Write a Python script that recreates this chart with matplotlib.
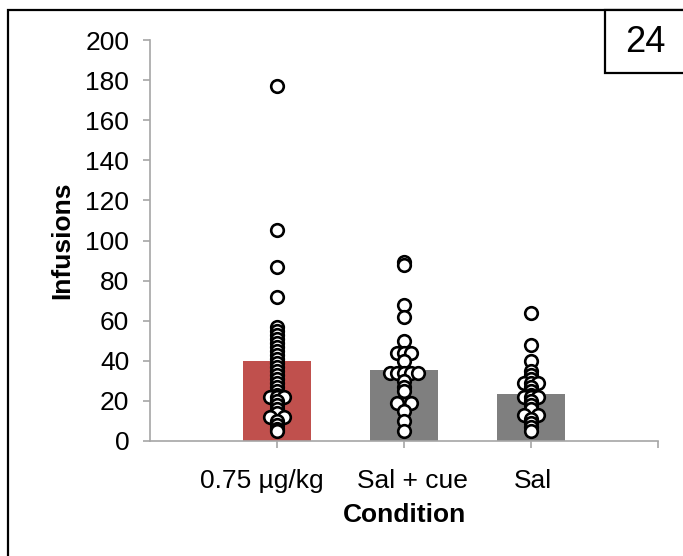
import numpy as np
import matplotlib
matplotlib.use('Agg')
import matplotlib.pyplot as plt
from matplotlib.patches import Rectangle
from matplotlib.transforms import ScaledTranslation

# Condition names and bar heights (group means)
conditions = ['0.75 µg/kg', 'Sal + cue', 'Sal']
bar_means = [40, 35.5, 23.5]
bar_colors = ['#C0504D', '#7F7F7F', '#7F7F7F']

# Individual infusion counts for each condition
dose_vals = [177, 105, 87, 72, 57, 55, 53, 51, 49, 47, 45, 43, 41, 39, 37, 35, 33,
             31, 29, 27, 25, 23, 22, 22, 22, 20, 18, 16, 14, 12, 12, 10, 8, 6, 5]
salcue_vals = [89.5, 88, 68, 62, 50, 44, 44, 44, 40, 34, 34, 34, 34, 34, 30, 27,
               25, 19, 19, 15, 10, 5]
sal_vals = [64, 48, 40, 35, 33, 31, 29, 29, 29, 27, 25, 23, 22, 22, 22, 20, 18,
            16, 13, 13, 11, 9, 7, 5]
groups = [dose_vals, salcue_vals, sal_vals]
y_ticks = list(range(0, 201, 20))
panel_number = '24'


# Spreads repeated values sideways so that they can all be seen
def spread(values, step=0.055):
    values = np.asarray(values, dtype=float)
    offsets = np.zeros(len(values))
    for v in np.unique(values):
        idx = np.where(values == v)[0]
        n = len(idx)
        if n == 1:
            continue
        if n % 2:
            k = np.arange(n) - (n - 1) / 2
        else:
            k = np.concatenate([np.arange(-n // 2, 0), np.arange(1, n // 2 + 1)])
        offsets[idx] = k * step
    return offsets


W, H = 683, 556
fig = plt.figure(figsize=(W / 100, H / 100), dpi=100)
plt.rcParams['font.family'] = ['Liberation Sans', 'DejaVu Sans']
ax = fig.add_axes([150 / W, 115 / H, 508 / W, 401 / H])

xpos = np.arange(1, len(conditions) + 1)
ax.bar(xpos, bar_means, width=0.53, color=bar_colors, zorder=1)
for x, vals in zip(xpos, groups):
    ax.scatter(x + spread(vals), vals, s=82, facecolor='white', edgecolor='black',
               linewidth=1.9, zorder=3)

# Axes styling, close to the Excel look of the original
axis_grey = '#A6A6A6'
ax.set_xlim(0, 4)
ax.set_ylim(0, 200)
ax.set_yticks(y_ticks)
ax.set_xticks([1, 2, 3, 4])
ax.set_xticklabels(conditions + [''])
for side in ['top', 'right']:
    ax.spines[side].set_visible(False)
for side in ['left', 'bottom']:
    ax.spines[side].set_color(axis_grey)
    ax.spines[side].set_linewidth(1.2)
ax.tick_params(axis='y', direction='out', length=5, width=1.2, color=axis_grey,
               labelsize=19, pad=10)
ax.tick_params(axis='x', direction='out', length=5, width=1.2, color=axis_grey,
               labelsize=19, pad=15)
# the category labels in the original sit a little off their ticks
for lab, dx in zip(ax.get_xticklabels(), [-15, 8, 2, 0]):
    lab.set_transform(lab.get_transform() + ScaledTranslation(dx / 100, 0, fig.dpi_scale_trans))
ax.set_ylabel('Infusions', fontsize=19, fontweight='bold')
ax.yaxis.set_label_coords(-0.15, 0.5)
ax.set_xlabel('Condition', fontsize=19, fontweight='bold')
ax.xaxis.set_label_coords(0.5, -0.155)

# Outer frame and the panel number box in the corner
fig.patches.append(Rectangle((8 / W, -0.05), 1.1, (H - 10) / H + 0.05,
                             transform=fig.transFigure, fill=False,
                             edgecolor='black', linewidth=1.6))
fig.patches.append(Rectangle((605 / W, (H - 73) / H), 0.2, 63 / H,
                             transform=fig.transFigure, facecolor='white',
                             edgecolor='black', linewidth=1.6))
fig.text(645 / W, (H - 42) / H, panel_number, fontsize=26, ha='center', va='center')

plt.savefig('out.png', dpi=100)
